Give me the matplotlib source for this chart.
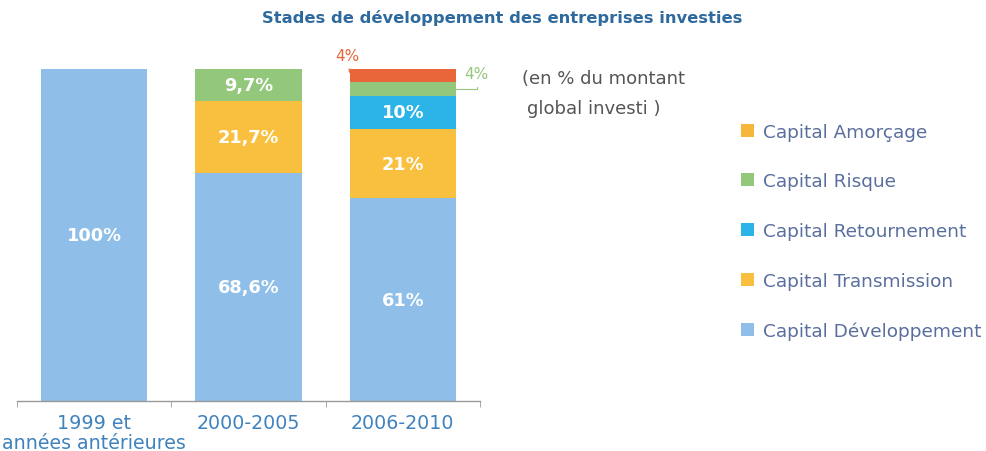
import matplotlib
matplotlib.use("Agg")
import matplotlib.pyplot as plt
from matplotlib.patches import Patch
import numpy as np

plt.rcParams["font.family"] = ["DejaVu Sans"]

# data
periods = ['1999 et\nannées antérieures', '2000-2005', '2006-2010']
stages = ['Capital Développement', 'Capital Transmission', 'Capital Retournement',
          'Capital Risque', 'Capital Amorçage']
developpement = [100, 68.6, 61]
transmission = [0, 21.7, 21]
retournement = [0, 0, 10]
risque = [0, 9.7, 4]
amorcage = [0, 0, 4]
series = [developpement, transmission, retournement, risque, amorcage]

bar_colors = ['#8fbfe8', '#f9c03f', '#2cb3e8', '#93c77c', '#e8663a']
legend_colors = {'Capital Amorçage': '#f6b63c', 'Capital Risque': '#93c77c',
                 'Capital Retournement': '#2cb3e8', 'Capital Transmission': '#f9c03f',
                 'Capital Développement': '#8fbfe8'}

fig = plt.figure(figsize=(9.86, 4.52), dpi=100)
ax = fig.add_axes([17/986, 50/452, 463/986, 332/452])

x = np.arange(len(periods))
width = 0.69
bottom = np.zeros(len(periods))
for vals, col in zip(series, bar_colors):
    vals = np.array(vals, dtype=float)
    ax.bar(x, vals, width, bottom=bottom, color=col, edgecolor='none')
    for xi, v, b in zip(x, vals, bottom):
        if v >= 9:
            txt = ('%g' % v).replace('.', ',') + '%'
            ax.text(xi, b + v / 2, txt, ha='center', va='center', color='white',
                    fontsize=12.8, fontweight='bold')
    bottom += vals

# small segments labelled outside
top3 = bottom[2]
ax.annotate('4%', xy=(x[2] - width / 2, top3 - 1), xytext=(1.56, 104),
            color='#e8663a', fontsize=11, ha='left', va='center',
            annotation_clip=False,
            arrowprops=dict(arrowstyle='-', color='#e8663a', lw=0.8,
                            shrinkA=2, shrinkB=0))
ax.annotate('4%', xy=(x[2] + width / 2, top3 - 6), xytext=(2.4, 98.6),
            color='#93c77c', fontsize=11, ha='left', va='center',
            annotation_clip=False,
            arrowprops=dict(arrowstyle='-', color='#93c77c', lw=0.8,
                            shrinkA=2, shrinkB=0,
                            connectionstyle='angle,angleA=90,angleB=0,rad=0'))

ax.set_xlim(-0.5, 2.5)
ax.set_ylim(0, 100)
ax.set_yticks([])
ax.set_xticks(x)
ax.set_xticklabels(periods, color='#3f82bd', fontsize=13.7, linespacing=1.05)
ax.tick_params(axis='x', which='major', length=0, pad=9)
ax.set_xticks([-0.5, 0.5, 1.5, 2.5], minor=True)
ax.tick_params(axis='x', which='minor', length=4, direction='out', color='#999999')
for s in ['top', 'left', 'right']:
    ax.spines[s].set_visible(False)
ax.spines['bottom'].set_color('#999999')
ax.spines['bottom'].set_linewidth(1.0)

fig.text(0.509, 1 - 18/452, 'Stades de développement des entreprises investies',
         ha='center', va='center', color='#2e6a9e', fontsize=11.8, fontweight='bold')
fig.text(522/986, 1 - 79/452, '(en % du montant', ha='left', va='center',
         color='#555555', fontsize=13)
fig.text(527/986, 1 - 109/452, 'global investi )', ha='left', va='center',
         color='#555555', fontsize=13)

order = ['Capital Amorçage', 'Capital Risque', 'Capital Retournement',
         'Capital Transmission', 'Capital Développement']
handles = [Patch(facecolor=legend_colors[k], edgecolor='none') for k in order]
leg = fig.legend(handles, order, loc='upper left', bbox_to_anchor=(724/986, 1 - 107/452),
                 frameon=False, fontsize=13.3, handlelength=0.7, handleheight=0.7,
                 handletextpad=0.5, labelspacing=1.72)
for t in leg.get_texts():
    t.set_color('#5a6e9e')

plt.savefig('out.png', dpi=100)
